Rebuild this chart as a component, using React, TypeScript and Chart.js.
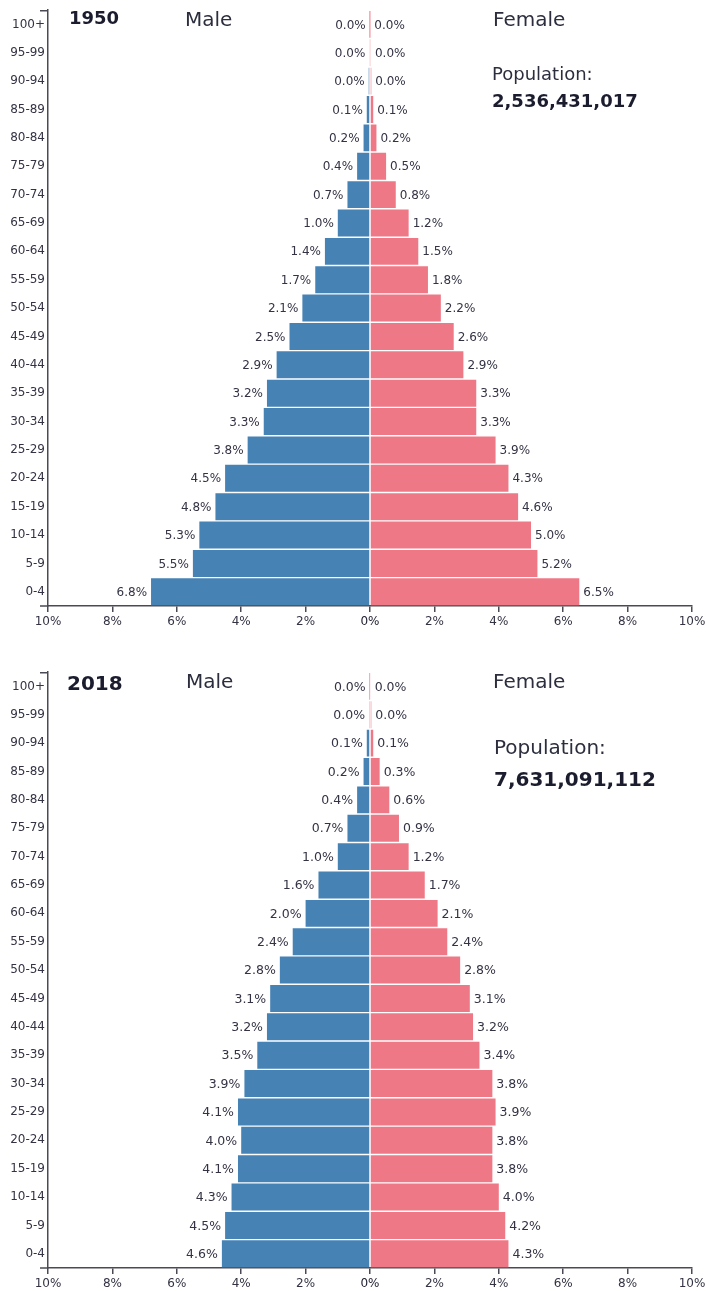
import React, { useEffect, useRef } from "react";
import { Chart, registerables } from "chart.js";

Chart.register(...registerables);

const AGE_GROUPS = [
  "100+", "95-99", "90-94", "85-89", "80-84", "75-79", "70-74", "65-69", "60-64",
  "55-59", "50-54", "45-49", "40-44", "35-39", "30-34", "25-29", "20-24", "15-19",
  "10-14", "5-9", "0-4",
];

const MALE_1950 = [0.01, 0.02, 0.04, 0.1, 0.2, 0.4, 0.7, 1.0, 1.4, 1.7, 2.1, 2.5, 2.9, 3.2, 3.3, 3.8, 4.5, 4.8, 5.3, 5.5, 6.8];
const FEMALE_1950 = [0.01, 0.03, 0.04, 0.1, 0.2, 0.5, 0.8, 1.2, 1.5, 1.8, 2.2, 2.6, 2.9, 3.3, 3.3, 3.9, 4.3, 4.6, 5.0, 5.2, 6.5];

const MALE_2018 = [0.01, 0.03, 0.1, 0.2, 0.4, 0.7, 1.0, 1.6, 2.0, 2.4, 2.8, 3.1, 3.2, 3.5, 3.9, 4.1, 4.0, 4.1, 4.3, 4.5, 4.6];
const FEMALE_2018 = [0.02, 0.04, 0.1, 0.3, 0.6, 0.9, 1.2, 1.7, 2.1, 2.4, 2.8, 3.1, 3.2, 3.4, 3.8, 3.9, 3.8, 3.8, 4.0, 4.2, 4.3];

const X_MIN = -10;
const X_MAX = 10;
const X_STEP = 2;

const FONT = "'DejaVu Sans', sans-serif";
const MALE_COLOR = "#4682b4";
const FEMALE_COLOR = "#ef7886";
const TEXT_COLOR = "#333344";
const TITLE_COLOR = "#1b1d2e";
const AXIS_COLOR = "#4a4a55";

type Props = {
  top: number;
  year: string;
  population: string;
  male: number[];
  female: number[];
  yearSize: number;
  yearBaseline: number;
  yearX: number;
  sexBaseline: number;
  maleX: number;
  femaleX: number;
  popSize: number;
  popX: number;
  popBaseline: number;
  numBaseline: number;
  labelSize: number;
};

function Pyramid(p: Props) {
  const ref = useRef<HTMLCanvasElement | null>(null);
  useEffect(() => {
    if (!ref.current) return;
    const overlay = {
      id: "overlay",
      afterDatasetsDraw(chart: any) {
        const ctx = chart.ctx;
        ctx.save();
        ctx.font = `${p.labelSize}px ${FONT}`;
        ctx.fillStyle = TEXT_COLOR;
        ctx.textBaseline = "middle";
        chart.data.datasets.forEach((ds: any, di: number) => {
          const meta = chart.getDatasetMeta(di);
          meta.data.forEach((el: any, i: number) => {
            const v = Math.abs(ds.data[i]);
            const txt = v.toFixed(1) + "%";
            if (di === 0) {
              ctx.textAlign = "right";
              ctx.fillText(txt, el.x - 4, el.y + 1);
            } else {
              ctx.textAlign = "left";
              ctx.fillText(txt, el.x + 4, el.y + 1);
            }
          });
        });
        ctx.restore();
      },
      afterDraw(chart: any) {
        const ctx = chart.ctx;
        const a = chart.chartArea;
        ctx.save();
        ctx.strokeStyle = AXIS_COLOR;
        ctx.lineWidth = 1.5;
        ctx.beginPath();
        ctx.moveTo(a.left - 8, a.top + 0.5);
        ctx.lineTo(a.left, a.top + 0.5);
        ctx.moveTo(a.left - 8, a.bottom);
        ctx.lineTo(a.left, a.bottom);
        ctx.stroke();
        ctx.textAlign = "left";
        ctx.textBaseline = "alphabetic";
        ctx.fillStyle = TITLE_COLOR;
        ctx.font = `bold ${p.yearSize}px ${FONT}`;
        ctx.fillText(p.year, p.yearX, p.yearBaseline);
        ctx.fillStyle = "#2c2e3e";
        ctx.font = `20px ${FONT}`;
        ctx.fillText("Male", p.maleX, p.sexBaseline);
        ctx.fillText("Female", p.femaleX, p.sexBaseline);
        ctx.font = `${p.popSize}px ${FONT}`;
        ctx.fillText("Population:", p.popX, p.popBaseline);
        ctx.fillStyle = TITLE_COLOR;
        ctx.font = `bold ${p.popSize}px ${FONT}`;
        ctx.fillText(p.population, p.popX, p.numBaseline);
        ctx.restore();
      },
    };
    const chart = new Chart(ref.current, {
      type: "bar",
      data: {
        labels: AGE_GROUPS,
        datasets: [
          {
            label: "Male",
            data: p.male.map((v) => -v),
            backgroundColor: MALE_COLOR,
            barPercentage: 0.95,
            categoryPercentage: 1,
          },
          {
            label: "Female",
            data: p.female,
            backgroundColor: FEMALE_COLOR,
            barPercentage: 0.95,
            categoryPercentage: 1,
          },
        ],
      },
      options: {
        indexAxis: "y",
        responsive: false,
        animation: false,
        devicePixelRatio: 1,
        layout: { padding: { top: 10, left: 0, right: 14, bottom: 10 } },
        plugins: {
          legend: { display: false },
          tooltip: { enabled: false },
          title: { display: false },
        },
        scales: {
          y: {
            type: "category",
            stacked: true,
            grid: { display: false, drawTicks: false },
            border: { display: true, color: AXIS_COLOR, width: 1.5 },
            ticks: {
              padding: 3,
              color: TEXT_COLOR,
              font: { family: FONT, size: 12 },
              autoSkip: false,
            },
            afterFit: (s: any) => {
              s.width = 48;
            },
          },
          x: {
            type: "linear",
            stacked: true,
            min: X_MIN,
            max: X_MAX,
            ticks: {
              stepSize: X_STEP,
              padding: 3,
              autoSkip: false,
              maxRotation: 0,
              color: (c: any) => (c.tick && c.tick.value === 0 ? "#222233" : TEXT_COLOR),
              font: { family: FONT, size: 12 },
              callback: (v: any) => Math.abs(Number(v)) + "%",
            },
            grid: {
              drawOnChartArea: false,
              drawTicks: true,
              tickLength: 6,
              color: AXIS_COLOR,
              lineWidth: 1.5,
            },
            border: { display: true, color: AXIS_COLOR, width: 1.5 },
            afterFit: (s: any) => {
              s.height = 30;
              s.paddingLeft = 0;
              s.paddingRight = 0;
            },
          },
        },
      },
      plugins: [overlay],
    } as any);
    return () => chart.destroy();
  }, []);
  return (
    <canvas
      ref={ref}
      width={706}
      height={646}
      style={{ position: "absolute", left: 0, top: p.top, width: 706, height: 646 }}
    />
  );
}

export default function App() {
  return (
    <div style={{ position: "absolute", left: 0, top: 0, width: 706, height: 1291, background: "#fff", overflow: "hidden" }}>
      <Pyramid
        top={0}
        year="1950"
        population="2,536,431,017"
        male={MALE_1950}
        female={FEMALE_1950}
        yearSize={18}
        yearX={69}
        yearBaseline={24}
        sexBaseline={26}
        maleX={185}
        femaleX={493}
        popSize={18}
        popX={492}
        popBaseline={80}
        numBaseline={107}
        labelSize={12}
      />
      <Pyramid
        top={662}
        year="2018"
        population="7,631,091,112"
        male={MALE_2018}
        female={FEMALE_2018}
        yearSize={20}
        yearX={67}
        yearBaseline={28}
        sexBaseline={26}
        maleX={186}
        femaleX={493}
        popSize={20}
        popX={494}
        popBaseline={92}
        numBaseline={124}
        labelSize={12.5}
      />
    </div>
  );
}
